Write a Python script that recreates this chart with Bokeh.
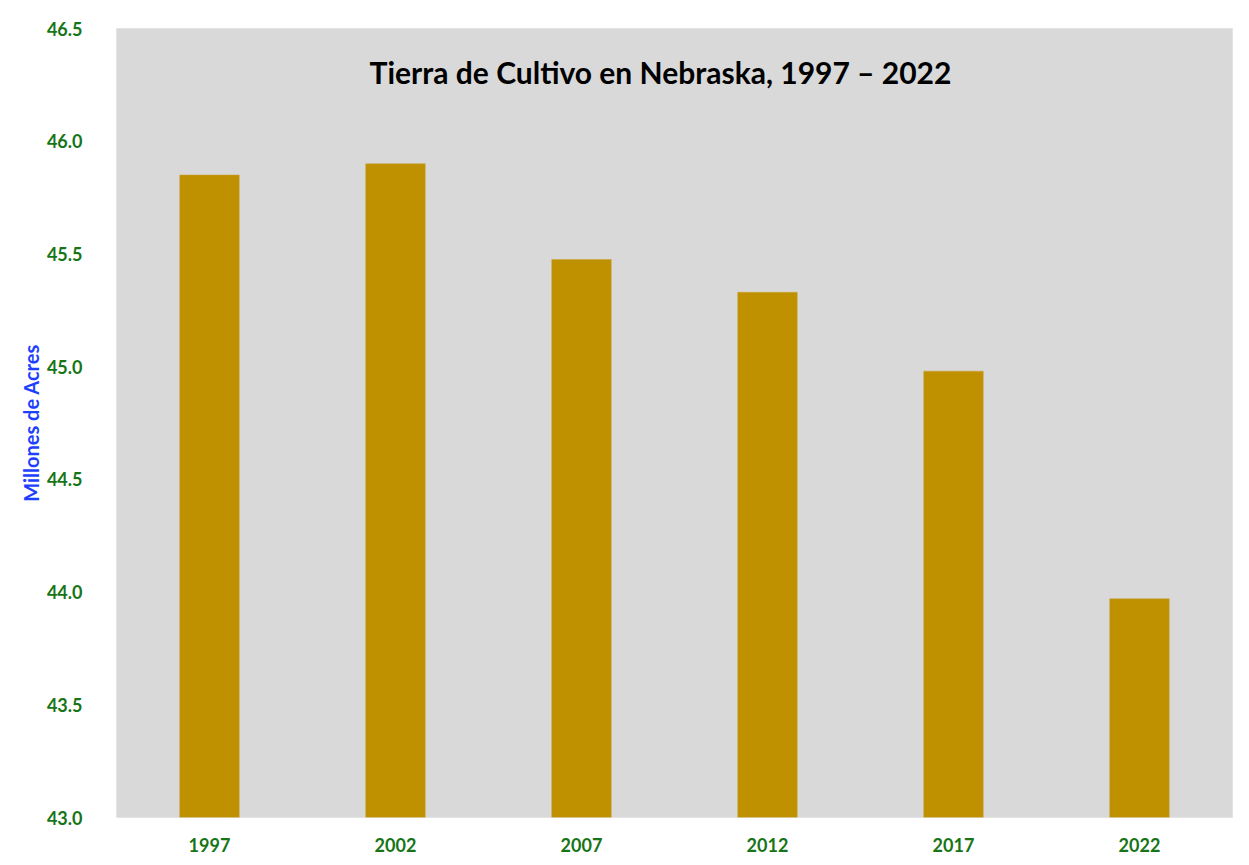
from bokeh.plotting import figure
from bokeh.models import Range1d, FixedTicker, Label, NumeralTickFormatter, ColumnDataSource
from bokeh.embed import file_html
from bokeh.resources import INLINE

years = ["1997", "2002", "2007", "2012", "2017", "2022"]
acres = [45.85, 45.90, 45.475, 45.33, 44.98, 43.97]
y_ticks = [43.0, 43.5, 44.0, 44.5, 45.0, 45.5, 46.0, 46.5]
title_text = "Tierra de Cultivo en Nebraska, 1997 – 2022"
y_label = "Millones de Acres"

FONT = "Lato"
GREEN = "#177517"
BLUE = "#1f3fff"

p = figure(x_range=years, y_range=Range1d(43.0, 46.5), width=1241, height=857,
           output_backend="svg", toolbar_location=None,
           min_border_left=116, min_border_top=28, min_border_right=9, min_border_bottom=40)
p.background_fill_color = "#d9d9d9"
p.border_fill_color = "white"
p.outline_line_color = "#e4e4e4"
p.xgrid.grid_line_color = None
p.ygrid.grid_line_color = None

src = ColumnDataSource(dict(x=years, top=acres))
p.vbar(x="x", top="top", bottom=43.0, width=0.32, source=src,
       fill_color="#bf9000", line_color="#c9a030", line_width=0.5)

p.yaxis.ticker = FixedTicker(ticks=y_ticks)
p.yaxis.formatter = NumeralTickFormatter(format="0.0")
for ax in (p.xaxis[0], p.yaxis[0]):
    ax.axis_line_color = None
    ax.major_tick_line_color = None
    ax.minor_tick_line_color = None
    ax.major_label_text_font = FONT
    ax.major_label_text_font_style = "bold"
    ax.major_label_text_font_size = "18px"
    ax.major_label_text_color = GREEN
p.yaxis.major_label_standoff = 28
p.xaxis.major_label_standoff = 14
p.yaxis.axis_label = y_label
p.yaxis.axis_label_text_font = FONT
p.yaxis.axis_label_text_font_style = "bold"
p.yaxis.axis_label_text_font_size = "20px"
p.yaxis.axis_label_text_color = BLUE
p.yaxis.axis_label_standoff = 1

p.add_layout(Label(x=544, y=746, x_units="screen", y_units="screen", text=title_text,
                   text_align="center", text_baseline="middle", text_font=FONT,
                   text_font_style="bold", text_font_size="30px", text_color="black"))

open("out.html", "w").write(file_html(p, INLINE))
